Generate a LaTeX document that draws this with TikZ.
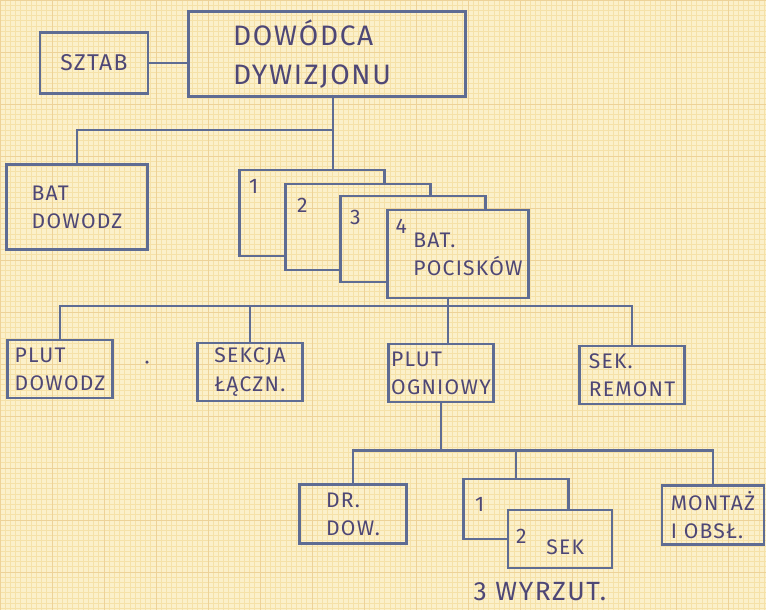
\documentclass[tikz,border=0pt]{standalone}
\usepackage{fontspec}
\setmainfont{Fira Sans}[LetterSpace=6]
\definecolor{paper}{HTML}{FBF0CA}
\definecolor{gridline}{HTML}{F5E1A8}
\definecolor{ink}{HTML}{5E6C93}
\definecolor{pen}{HTML}{4E4776}
\tikzset{
  unit/.style={draw=ink,line width=1.5pt,minimum width=21mm,minimum height=11.6mm,inner sep=1pt,align=left,text=pen,font=\fontsize{12}{16}\selectfont},
  sheet/.style={minimum width=28.8mm,minimum height=17mm,inner sep=0pt},
  link/.style={draw=ink,line width=1.5pt},
  tag/.style={text=pen,inner sep=0pt,font=\fontsize{12}{14}\selectfont}
}

\begin{document}
\begin{tikzpicture}[x=0.2mm,y=-0.2mm]
  \useasboundingbox (0,0) rectangle (766,610);
  \fill[paper] (0,0) rectangle (766,610);
  \draw[gridline,line width=0.4pt,step=1.04mm] (0,610) grid (766,0);
  \draw[gridline!85!brown,line width=0.5pt,step=10.4mm] (0,610) grid (766,0);

  \node[unit,minimum width=21.6mm,minimum height=12.2mm,font=\fontsize{13}{16}\selectfont] (sztab) at (94,63) {SZTAB};
  \node[unit,minimum width=55.4mm,minimum height=17mm,font=\fontsize{16}{22}\selectfont] (dowodca) at (327,54) {DOWÓDCA\\DYWIZJONU\hspace*{6mm}};
  \node[unit,minimum width=28.2mm,minimum height=17mm] (batdow) at (77,207) {BAT\\DOWODZ};

  \node[sheet] (bat1) at (312,213) {};
  \node[sheet] (bat2) at (358,227) {};
  \node[sheet] (bat3) at (413,239) {};
  \node[unit,minimum width=28.2mm,minimum height=17.6mm] (bat4) at (458,254) {\hspace*{4mm}BAT.\\\hspace*{4mm}POCISKÓW};

  \node[unit] (plutdow) at (60,369) {PLUT\\DOWODZ};
  \node[unit] (sekcja) at (250,372) {SEKCJA\\ŁĄCZN.};
  \node[unit] (plutogn) at (441,373) {PLUT\\OGNIOWY};
  \node[unit] (sekrem) at (632,375) {SEK.\\REMONT};

  \node[unit,minimum width=21.4mm,minimum height=11.8mm] (drdow) at (353,514) {DR.\\DOW.};
  \node[sheet,minimum width=20.8mm,minimum height=11.8mm] (sek1) at (516,509) {};
  \node[unit,minimum width=20.8mm] (sek2) at (560,539) {};
  \node[unit,minimum width=20.4mm,minimum height=11.8mm] (montaz) at (713,515) {MONTAŻ\\I OBSŁ.};

  \draw[link] (bat2.north -| bat1.east) -- (bat1.north east) -- (bat1.north west)
    -- (bat1.south west) -- (bat1.south -| bat2.west);
  \draw[link] (bat3.north -| bat2.east) -- (bat2.north east) -- (bat2.north west)
    -- (bat2.south west) -- (bat2.south -| bat3.west);
  \draw[link] (bat4.north -| bat3.east) -- (bat3.north east) -- (bat3.north west)
    -- (bat3.south west) -- (bat3.south -| bat4.west);
  \draw[link] (sek2.north -| sek1.east) -- (sek1.north east) -- (sek1.north west)
    -- (sek1.south west) -- (sek1.south -| sek2.west);

  \node[tag,anchor=north west] (n1) at ([shift={(9,9)}]bat1.north west) {1};
  \node[tag,anchor=north west] (n2) at ([shift={(11,14)}]bat2.north west) {2};
  \node[tag,anchor=north west] (n3) at ([shift={(9,14)}]bat3.north west) {3};
  \node[tag,anchor=north west] (n4) at ([shift={(9,10)}]bat4.north west) {4};
  \node[tag,anchor=north west] (s1) at ([shift={(11,18)}]sek1.north west) {1};
  \node[tag,anchor=north west] (s2) at ([shift={(9,20)}]sek2.north west) {2};
  \node[tag,anchor=west] (sektxt) at ([shift={(-14,8)}]sek2.center) {SEK};
  \node[tag,font=\fontsize{15}{18}\selectfont] (wyrzut) at (540,592) {3 WYRZUT.};

  \coordinate (bus1) at (333,130);
  \coordinate (bus2) at (448,306);
  \draw[link] (sztab.east) -- (sztab.east -| dowodca.west);
  \draw[link] (bus1 |- dowodca.south) -- (bus1 |- bat1.north);
  \draw[link] (bus1) -| (batdow.north);
  \draw[link] (bus2 |- bat4.south) -- (bus2 |- plutogn.north);
  \draw[link] (plutdow.north) |- (bus2) -| (sekrem.north);
  \draw[link] (sekcja.north) -- (sekcja.north |- bus2);
  \draw[link] (plutogn.south) -- ++(0,47) coordinate (bus3);
  \draw[link] (drdow.north) |- (bus3) -| (montaz.north);
  \draw[link] (sek1.north) -- (sek1.north |- bus3);

  \fill[pen] (147,362) circle (0.35mm);
\end{tikzpicture}
\end{document}
